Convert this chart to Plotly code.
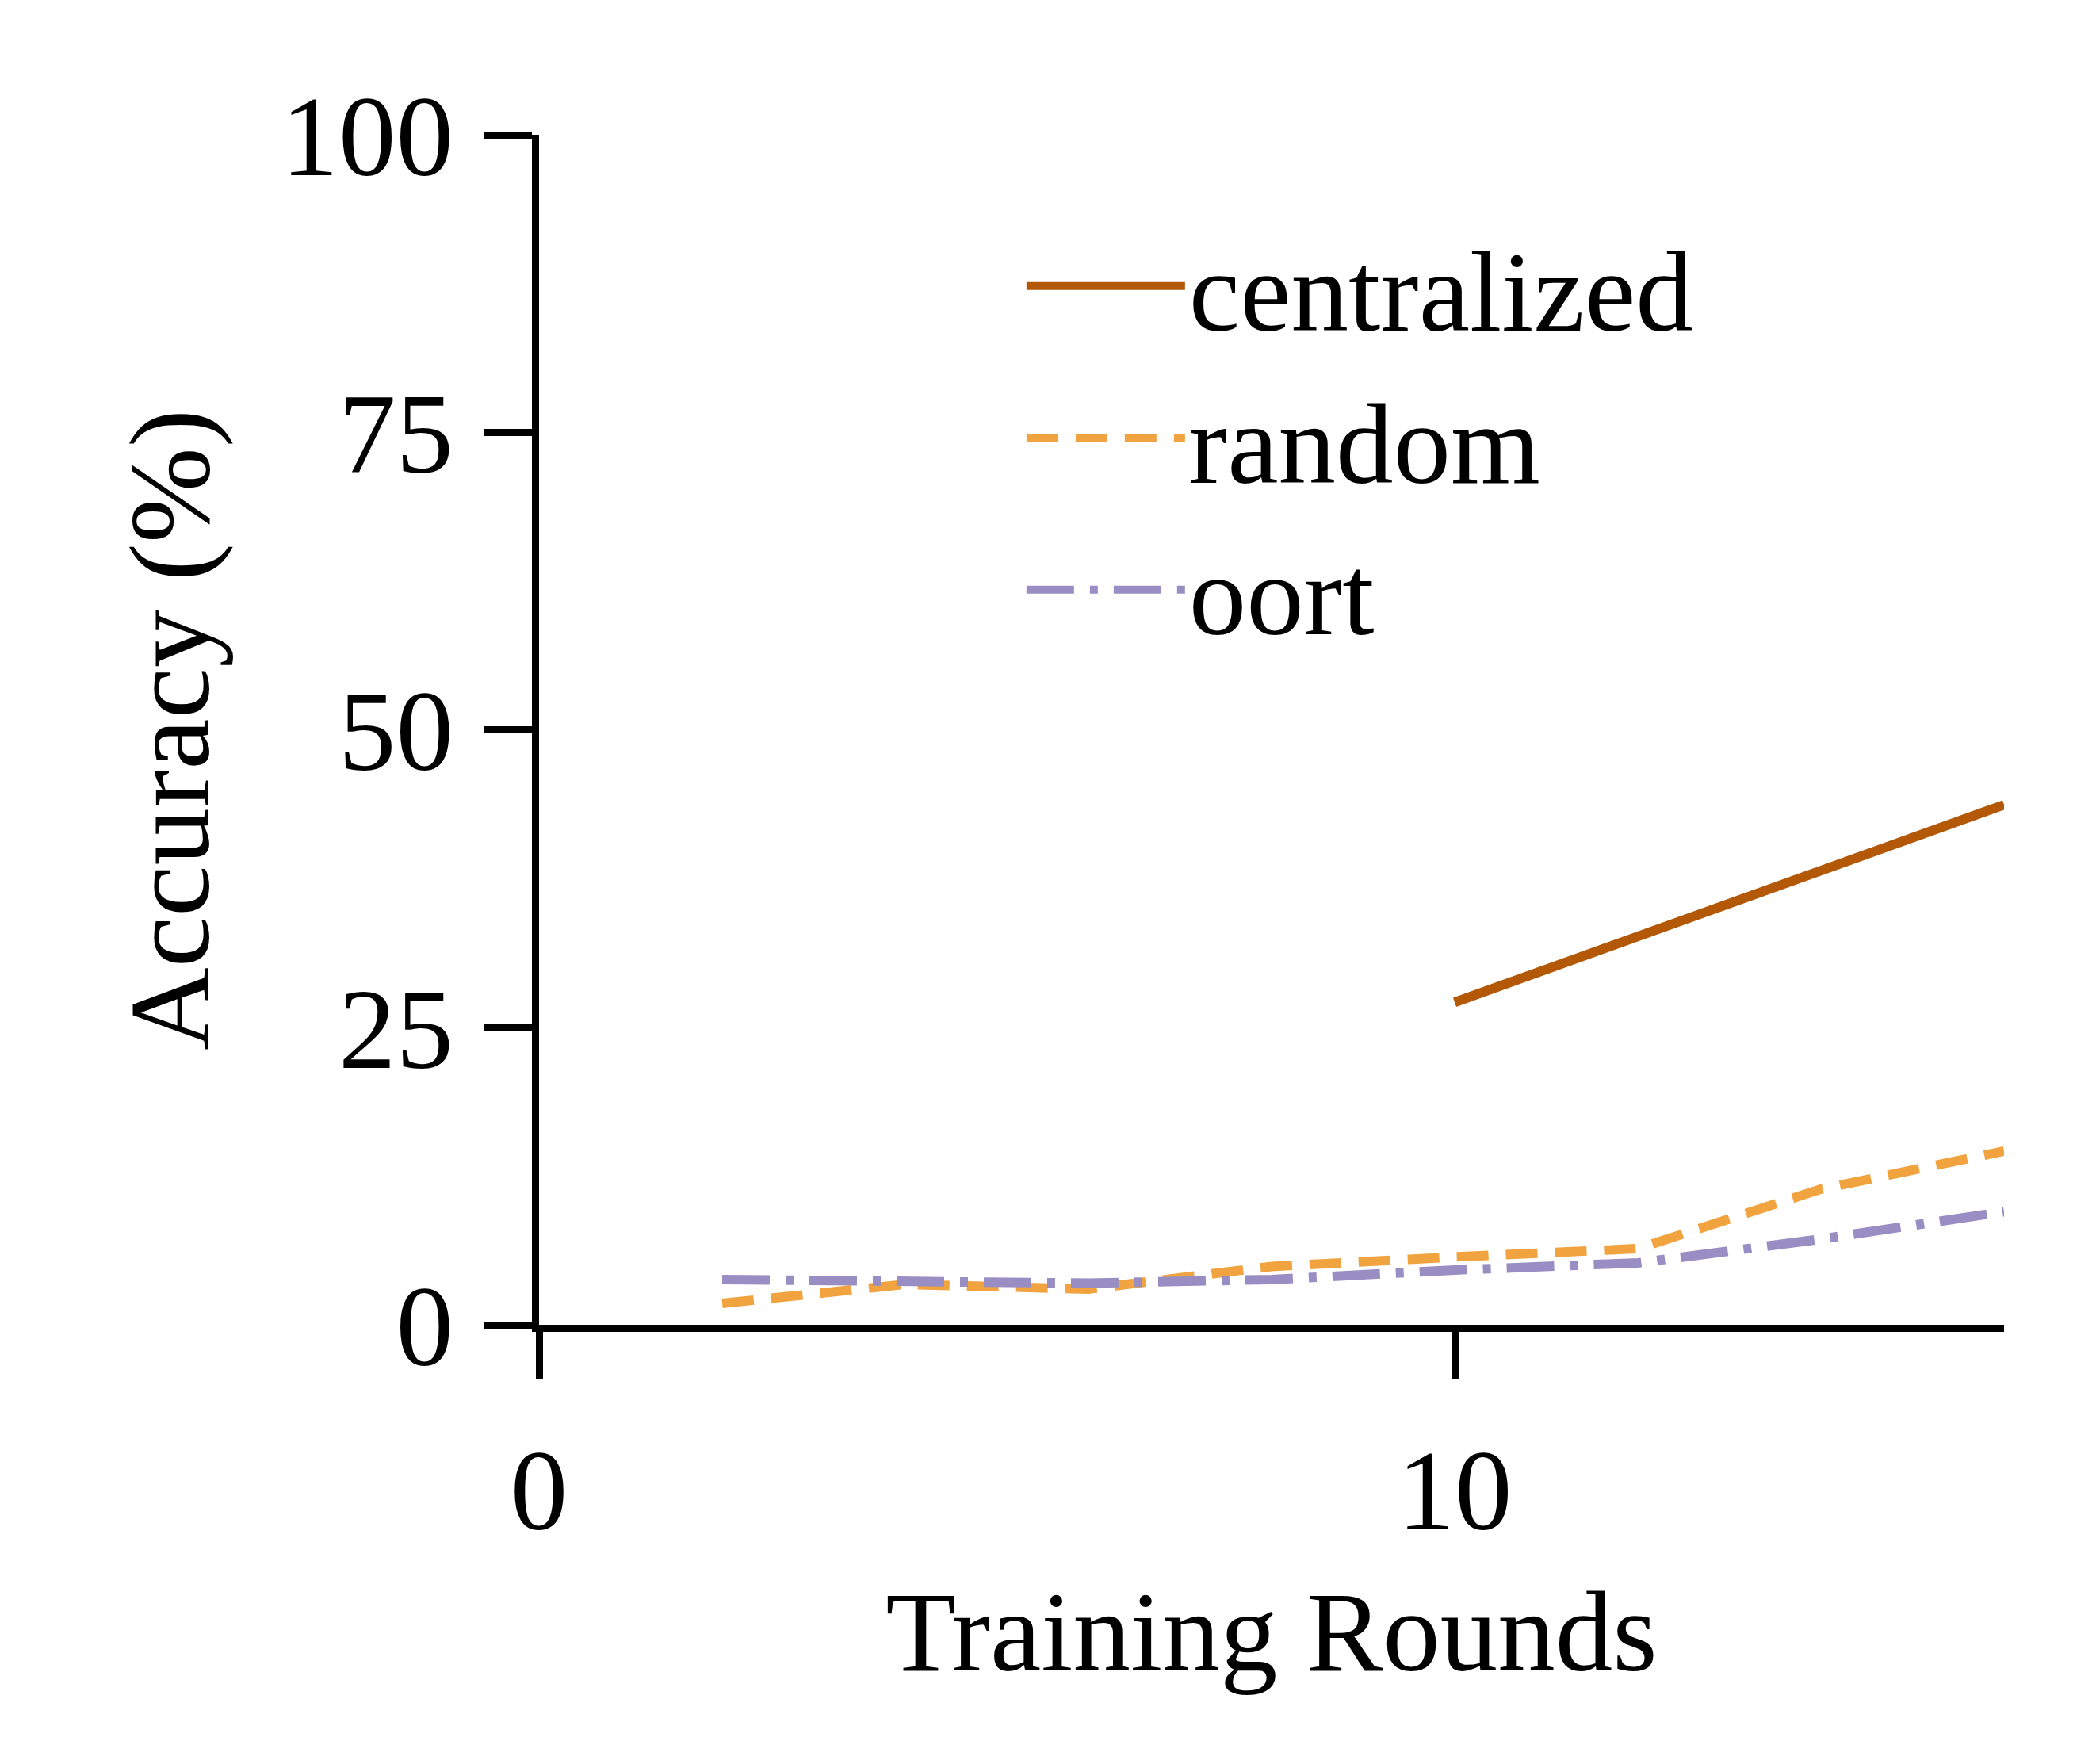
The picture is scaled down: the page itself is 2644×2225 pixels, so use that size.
import plotly.graph_objects as go

rounds = [2, 4, 6, 8, 10, 12, 14, 16]
central_rounds = [10, 12, 14, 16]
centralized = [27.1, 32.6, 38.2, 43.7]
random_acc = [1.8, 3.4, 3.0, 4.9, 5.7, 6.4, 11.4, 14.6]
oort_acc = [3.8, 3.7, 3.5, 3.8, 4.6, 5.2, 7.2, 9.5]

font = "Liberation Serif"
fig = go.Figure()
fig.add_trace(go.Scatter(x=central_rounds, y=centralized, mode="lines", name="centralized",
                         line=dict(color="#b35806", width=12)))
fig.add_trace(go.Scatter(x=rounds, y=random_acc, mode="lines", name="random",
                         line=dict(color="#f1a340", width=12, dash="40px,22px")))
fig.add_trace(go.Scatter(x=rounds, y=oort_acc, mode="lines", name="oort",
                         line=dict(color="#998ec3", width=12, dash="60px,20px,10px,20px")))

axis_common = dict(showline=True, linecolor="black", linewidth=9, ticks="outside",
                   ticklen=60, tickwidth=9, tickcolor="black", showgrid=False,
                   zeroline=False, tickfont=dict(family=font, size=145, color="black"))
fig.update_xaxes(range=[0, 16], tickvals=[0, 10], title=dict(text="Training Rounds",
                 font=dict(family=font, size=145, color="black"), standoff=50),
                 ticklabelstandoff=15, **axis_common)
fig.update_yaxes(range=[0, 100], tickvals=[0, 25, 50, 75, 100], title=dict(text="Accuracy (%)",
                 font=dict(family=font, size=145, color="black"), standoff=45),
                 ticklabelstandoff=10, **axis_common)
fig.update_layout(width=2644, height=2225, plot_bgcolor="white", paper_bgcolor="white",
                  margin=dict(l=672, r=124, t=162, b=562),
                  legend=dict(x=0.33, y=0.94, xanchor="left", yanchor="top",
                              font=dict(family=font, size=145, color="black"),
                              bgcolor="rgba(0,0,0,0)", itemwidth=200, tracegroupgap=25))
fig.write_html("out.html")
